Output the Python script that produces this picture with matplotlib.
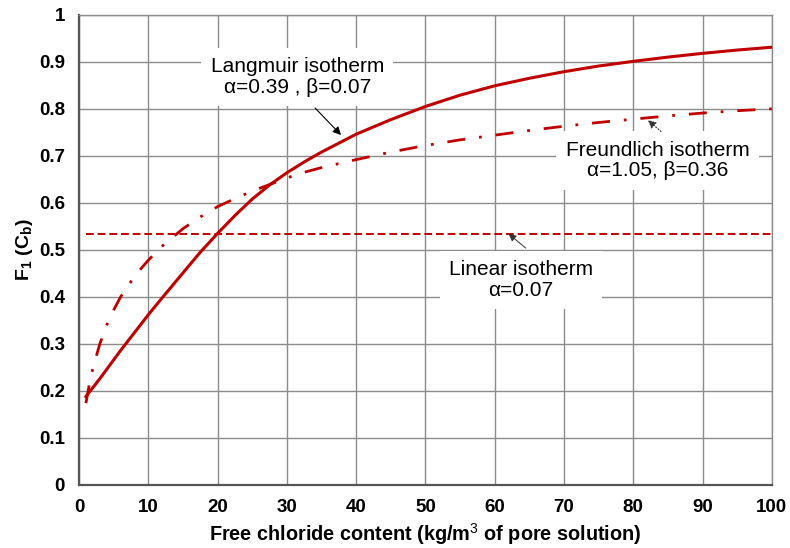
import matplotlib
matplotlib.use("Agg")
import matplotlib.pyplot as plt
from matplotlib.ticker import MultipleLocator, FormatStrFormatter

plt.rcParams["font.family"] = ["Liberation Sans", "DejaVu Sans"]
plt.rcParams["mathtext.fontset"] = "custom"
plt.rcParams["mathtext.rm"] = "Liberation Sans"
plt.rcParams["mathtext.bf"] = "Liberation Sans:bold"

# free chloride content (kg/m3 of pore solution)
conc = [1, 1.5, 2, 3, 4, 5, 6, 7, 8, 9, 10, 12, 15, 17.5, 20, 22.5, 25, 27.5, 30, 32.5, 35,
        40, 45, 50, 55, 60, 65, 70, 75, 80, 85, 90, 95, 100]
langmuir = [0.188, 0.198, 0.207, 0.226, 0.246, 0.266, 0.286, 0.305, 0.324, 0.343, 0.362, 0.398,
            0.451, 0.495, 0.535, 0.573, 0.608, 0.638, 0.664, 0.687, 0.708,
            0.746, 0.777, 0.805, 0.829, 0.849, 0.865, 0.879, 0.891, 0.901, 0.910, 0.918, 0.925, 0.931]
freundlich = [0.174, 0.215, 0.248, 0.300, 0.340, 0.372, 0.400, 0.422, 0.443, 0.461, 0.478, 0.508,
              0.545, 0.570, 0.592, 0.609, 0.625, 0.639, 0.653, 0.665, 0.675,
              0.692, 0.708, 0.722, 0.734, 0.744, 0.754, 0.763, 0.771, 0.778, 0.785, 0.791, 0.796, 0.800]
linear_x = [1, 100]
linear = [0.533, 0.533]

red = "#C00000"

fig = plt.figure(figsize=(7.9, 5.48), dpi=100)
ax = fig.add_axes([0.1, 0.115, 0.877, 0.858])

ax.plot(conc, langmuir, color=red, lw=2.2, zorder=3)
ax.plot(conc, freundlich, color=red, lw=2, ls=(0, (6.5, 5, 1, 5)), zorder=3)
ax.plot(linear_x, linear, color=red, lw=1.4, ls=(0, (4, 2)), zorder=3)

ax.set_xlim(0, 100)
ax.set_ylim(0, 1)
ax.xaxis.set_major_locator(MultipleLocator(10))
ax.yaxis.set_major_locator(MultipleLocator(0.1))
ax.yaxis.set_major_formatter(FormatStrFormatter("%g"))
ax.grid(True, color="#8c8c8c", lw=1)
ax.set_axisbelow(True)
ax.tick_params(length=0, labelsize=13.5, pad=10)
for lab in ax.get_xticklabels() + ax.get_yticklabels():
    lab.set_fontweight("bold")
for s in ["left", "bottom"]:
    ax.spines[s].set_color("#555555")
    ax.spines[s].set_linewidth(1.6)
for s in ["top", "right"]:
    ax.spines[s].set_color("#8c8c8c")
    ax.spines[s].set_linewidth(1)

ax.set_xlabel("Free chloride content (kg/m$^\\mathrm{3}$ of pore solution)", fontsize=14.3,
              fontweight="bold", labelpad=4)
ax.set_ylabel("F$_\\mathbf{1}$ (C$_\\mathbf{b}$)", fontsize=14, fontweight="bold", labelpad=3)

box = dict(boxstyle="square,pad=0.45", fc="white", ec="none")
ax.text(31.5, 0.868, "Langmuir isotherm\nα=0.39 , β=0.07", ha="center", va="center",
        fontsize=15, bbox=box, zorder=4, linespacing=1.1)
ax.text(83.5, 0.690, "Freundlich isotherm\nα=1.05, β=0.36", ha="center", va="center",
        fontsize=15, bbox=box, zorder=4, linespacing=1.1)
ax.text(63.8, 0.436, "Linear isotherm\nα=0.07", ha="center", va="center",
        fontsize=15, bbox=box, zorder=4, linespacing=1.1)

ax.annotate("", xy=(38.1, 0.740), xytext=(33.8, 0.806),
            arrowprops=dict(arrowstyle="-|>", color="black", lw=0.8, mutation_scale=12), zorder=5)
ax.annotate("", xy=(81.8, 0.780), xytext=(84.3, 0.748),
            arrowprops=dict(arrowstyle="-|>", color="#333333", lw=0.8, ls=":", mutation_scale=12), zorder=5)
ax.annotate("", xy=(61.7, 0.538), xytext=(64.8, 0.500),
            arrowprops=dict(arrowstyle="-|>", color="#333333", lw=0.7, mutation_scale=11), zorder=5)

fig.savefig("out.png", dpi=100)
